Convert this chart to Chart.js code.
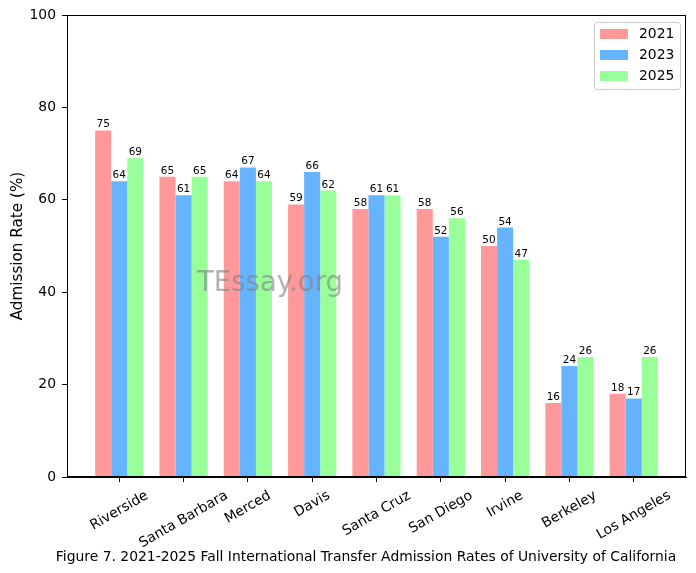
<!DOCTYPE html>
<html>
<head>
<meta charset="utf-8">
<script src="https://cdn.jsdelivr.net/npm/chart.js@4"></script>
<style>
html,body{margin:0;padding:0;background:#fff;}
canvas{display:block;}
</style>
</head>
<body>
<canvas id="c" width="696" height="573"></canvas>
<script>
const categories = ["Riverside","Santa Barbara","Merced","Davis","Santa Cruz","San Diego","Irvine","Berkeley","Los Angeles"];
const years = ["2021","2023","2025"];
const rates2021 = [75,65,64,59,58,58,50,16,18];
const rates2023 = [64,61,67,66,61,52,54,24,17];
const rates2025 = [69,65,64,62,61,56,47,26,26];
const yTicks = [0,20,40,60,80,100];
const colors = ["#ff9999","#66b3ff","#99ff99"];
const caption = "Figure 7. 2021-2025 Fall International Transfer Admission Rates of University of California";
const watermark = "TEssay.org";

const FONT = "'DejaVu Sans', sans-serif";
const series = [rates2021, rates2023, rates2025];

const datasets = series.map((arr, k) => ({
  label: years[k],
  data: arr.map((v, i) => ({x: i, y: v})),
  backgroundColor: colors[k],
  borderWidth: 0,
  categoryPercentage: 0.75,
  barPercentage: 1.0
}));

const overlay = {
  id: 'overlay',
  afterDraw(chart) {
    const ctx = chart.ctx;
    const a = chart.chartArea;
    const xs = chart.scales.x;
    ctx.save();
    // frame
    ctx.strokeStyle = '#000';
    ctx.lineWidth = 1;
    ctx.strokeRect(Math.round(a.left) + 0.5, Math.round(a.top) + 0.5, Math.round(a.right - a.left) - 1, Math.round(a.bottom - a.top) - 1);
    // data labels
    ctx.fillStyle = '#000';
    ctx.font = "10.5px " + FONT;
    ctx.textAlign = 'center';
    ctx.textBaseline = 'bottom';
    chart.data.datasets.forEach((ds, k) => {
      const meta = chart.getDatasetMeta(k);
      meta.data.forEach((el, j) => {
        ctx.fillText(String(ds.data[j].y), el.x, el.y - 0.5);
      });
    });
    // x labels rotated 30 deg, centered on tick
    ctx.font = "13.9px " + FONT;
    const ang = 30 * Math.PI / 180;
    categories.forEach((name, i) => {
      const px = xs.getPixelForValue(i);
      const w = ctx.measureText(name).width;
      const h = 13.9 * 1.1;
      const H = w * Math.sin(ang) + h * Math.cos(ang);
      const cy = a.bottom + 11 + H / 2;
      ctx.save();
      ctx.translate(px, cy);
      ctx.rotate(-ang);
      ctx.textAlign = 'center';
      ctx.textBaseline = 'middle';
      ctx.fillText(name, 0, 0);
      ctx.restore();
    });
    // watermark
    ctx.font = "27.5px " + FONT;
    ctx.fillStyle = 'rgba(128,128,128,0.6)';
    ctx.textAlign = 'center';
    ctx.textBaseline = 'middle';
    ctx.fillText(watermark, 270, 284);
    // legend
    const lx = 594, ly = 22, lw = 86, lh = 67;
    ctx.beginPath();
    if (ctx.roundRect) ctx.roundRect(lx + 0.5, ly + 0.5, lw, lh, 3); else ctx.rect(lx + 0.5, ly + 0.5, lw, lh);
    ctx.fillStyle = 'rgba(255,255,255,0.8)';
    ctx.fill();
    ctx.strokeStyle = '#cccccc';
    ctx.stroke();
    ctx.font = "13.9px " + FONT;
    ctx.textAlign = 'left';
    ctx.textBaseline = 'middle';
    chart.data.datasets.forEach((ds, k) => {
      const cy = 34 + k * 21;
      ctx.fillStyle = ds.backgroundColor;
      ctx.fillRect(600, cy - 5, 28, 10);
      ctx.fillStyle = '#000';
      ctx.fillText(ds.label, 639, cy + 0.5);
    });
    // caption
    ctx.font = "13.9px " + FONT;
    ctx.fillStyle = '#000';
    ctx.textAlign = 'center';
    ctx.textBaseline = 'middle';
    ctx.fillText(caption, 366, 557);
    ctx.restore();
  }
};

new Chart(document.getElementById('c'), {
  type: 'bar',
  data: { datasets },
  plugins: [overlay],
  options: {
    responsive: false,
    animation: false,
    devicePixelRatio: 1,
    layout: { padding: { left: 0, right: 10, top: 15, bottom: 0 } },
    plugins: { legend: { display: false }, tooltip: { enabled: false } },
    scales: {
      x: {
        type: 'linear',
        min: -0.8125,
        max: 8.8125,
        offset: false,
        afterBuildTicks(scale) { scale.ticks = categories.map((c, i) => ({ value: i })); },
        afterFit(scale) { scale.height = 96; },
        ticks: { display: false },
        grid: { offset: false, drawOnChartArea: false, drawTicks: true, tickLength: 5, color: '#000', tickColor: '#000' },
        border: { display: true, color: '#000' }
      },
      y: {
        min: 0,
        max: 100,
        afterBuildTicks(scale) { scale.ticks = yTicks.map(v => ({ value: v })); },
        afterFit(scale) { scale.width = 67; },
        ticks: { color: '#000', font: { family: FONT, size: 13.9 }, padding: 6 },
        grid: { drawOnChartArea: false, drawTicks: true, tickLength: 5, color: '#000', tickColor: '#000' },
        border: { display: true, color: '#000' },
        title: { display: true, text: 'Admission Rate (%)', color: '#000', font: { family: FONT, size: 15.2 }, padding: { top: 9, bottom: 0 } }
      }
    }
  }
});
</script>
</body>
</html>
